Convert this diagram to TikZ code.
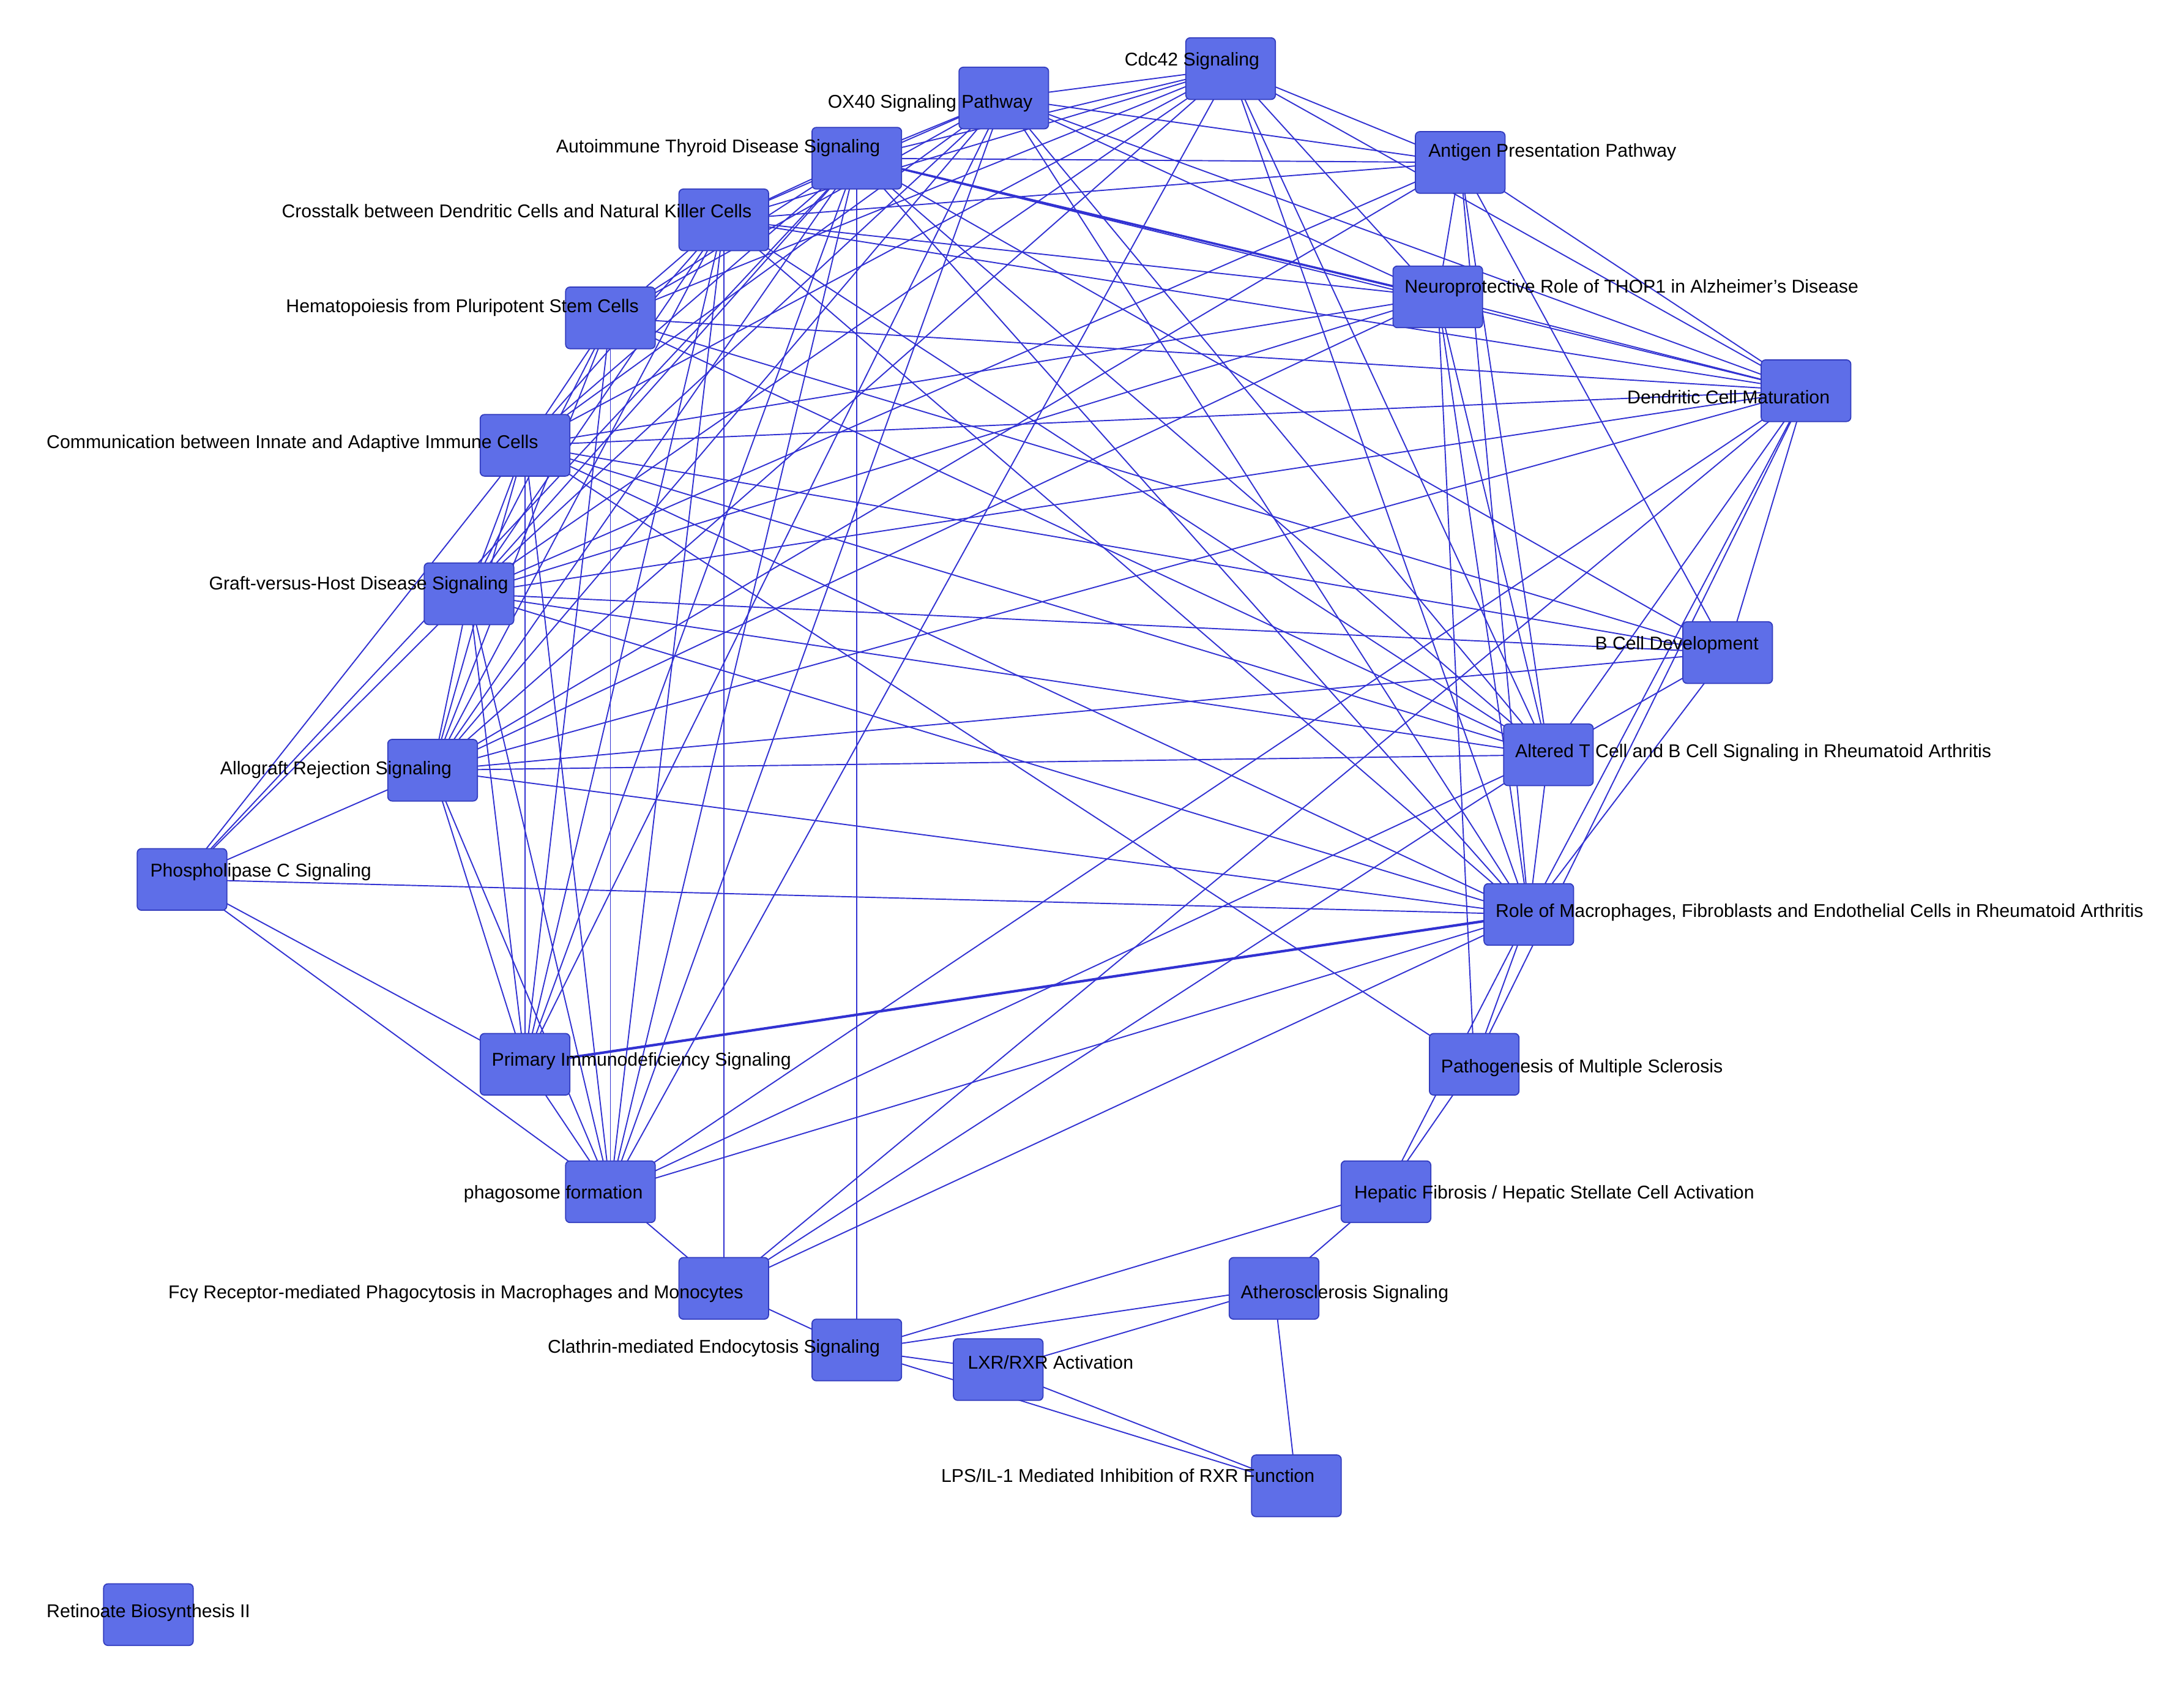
\documentclass[tikz,border=0pt]{standalone}
\usepackage{fontspec}
\setmainfont{Liberation Sans}
\definecolor{nodefill}{RGB}{94,110,232}
\definecolor{nodeedge}{RGB}{50,60,190}
\definecolor{edgecol}{RGB}{50,50,210}
\begin{document}
\begin{tikzpicture}[x=0.02288cm,y=-0.02288cm,
  box/.style={draw=nodeedge,fill=nodefill,rounded corners=2pt,minimum width=64*0.02288cm,minimum height=44*0.02288cm,line width=0.5pt},
  lab/.style={anchor=west,inner sep=0,yshift=1.5pt,font=\fontsize{8.6}{10}\selectfont},
  edge/.style={draw=edgecol,line width=0.55pt}]
\useasboundingbox (0,0) rectangle (1560,1206.4);
\foreach \n/\x/\y in {cdc/879/49,ox/717/70,ait/612/113,app/1043/116,cross/517/157,thop/1027/212,hema/436/227,dcm/1290/279,comm/375/318,gvhd/335/424,bcd/1234/466,atb/1106/539,allo/309/550,plc/130/628,rmf/1092/653,pid/375/760,pms/1053/760,phago/436/851,hep/990/851,fcy/517/920,ath/910/920,clat/612/964,lxr/713/978,lps/926/1061,ret/106/1153}
  \coordinate (c-\n) at (\x,\y);
\foreach \a/\b in {ox/cdc,ox/ait,ox/cross,ox/hema,ox/comm,ox/gvhd,ox/allo,ox/app,ox/thop,ox/dcm,ox/atb,ox/rmf,ox/phago,ox/pid,
 cdc/ait,cdc/cross,cdc/app,cdc/thop,cdc/dcm,cdc/comm,cdc/gvhd,cdc/allo,cdc/hema,cdc/rmf,cdc/atb,cdc/phago,
 ait/cross,ait/hema,ait/comm,ait/gvhd,ait/allo,ait/app,ait/thop,ait/dcm,ait/bcd,ait/atb,ait/rmf,ait/pid,ait/phago,ait/clat,
 cross/hema,cross/comm,cross/gvhd,cross/allo,cross/app,cross/thop,cross/dcm,cross/rmf,cross/atb,cross/fcy,cross/phago,cross/pid,
 hema/comm,hema/gvhd,hema/allo,hema/dcm,hema/bcd,hema/phago,hema/pid,hema/atb,
 comm/gvhd,comm/allo,comm/plc,comm/dcm,comm/thop,comm/bcd,comm/atb,comm/rmf,comm/pid,comm/phago,comm/pms,
 gvhd/allo,gvhd/plc,gvhd/bcd,gvhd/atb,gvhd/rmf,gvhd/pid,gvhd/phago,gvhd/dcm,gvhd/thop,gvhd/app,
 allo/plc,allo/pid,allo/phago,allo/atb,allo/rmf,allo/dcm,allo/thop,allo/bcd,allo/app,
 plc/pid,plc/phago,plc/rmf,plc/ait,
 app/thop,app/dcm,app/atb,app/rmf,app/bcd,
 thop/dcm,thop/atb,thop/rmf,thop/pms,
 dcm/bcd,dcm/atb,dcm/rmf,dcm/pms,dcm/phago,dcm/fcy,
 bcd/atb,bcd/rmf,atb/rmf,atb/phago,atb/fcy,
 rmf/pid,rmf/phago,rmf/pms,rmf/hep,rmf/fcy,
 pms/hep,hep/ath,hep/clat,ath/clat,ath/lxr,ath/lps,clat/lxr,clat/lps,lxr/lps,phago/fcy,phago/pid,fcy/clat}
  \draw[edge] (c-\a) -- (c-\b);
\draw[edge,line width=1.2pt] (c-rmf) -- (c-pid);
\draw[edge,line width=1pt] (c-ait) -- (c-thop);
\foreach \n in {cdc,ox,ait,app,cross,thop,hema,dcm,comm,gvhd,bcd,atb,allo,plc,rmf,pid,pms,phago,hep,fcy,ath,clat,lxr,lps,ret}
  \node[box] (\n) at (c-\n) {};
\node[lab] (l-cdc) at (803,46) {Cdc42 Signaling};
\node[lab] (l-ox) at (591,76) {OX40 Signaling Pathway};
\node[lab] (l-ait) at (397,108) {Autoimmune Thyroid Disease Signaling};
\node[lab] (l-app) at (1020,111) {Antigen Presentation Pathway};
\node[lab] (l-cross) at (201,153) {Crosstalk between Dendritic Cells and Natural Killer Cells};
\node[lab] (l-thop) at (1003,208) {Neuroprotective Role of THOP1 in Alzheimer's Disease};
\node[lab] (l-hema) at (204,222) {Hematopoiesis from Pluripotent Stem Cells};
\node[lab] (l-dcm) at (1162,286) {Dendritic Cell Maturation};
\node[lab] (l-comm) at (33,319) {Communication between Innate and Adaptive Immune Cells};
\node[lab] (l-gvhd) at (149,420) {Graft-versus-Host Disease Signaling};
\node[lab] (l-bcd) at (1139,463) {B Cell Development};
\node[lab] (l-atb) at (1082,540) {Altered T Cell and B Cell Signaling in Rheumatoid Arthritis};
\node[lab] (l-allo) at (157,552) {Allograft Rejection Signaling};
\node[lab] (l-plc) at (107,625) {Phospholipase C Signaling};
\node[lab] (l-rmf) at (1068,654) {Role of Macrophages, Fibroblasts and Endothelial Cells in Rheumatoid Arthritis};
\node[lab] (l-pid) at (351,760) {Primary Immunodeficiency Signaling};
\node[lab] (l-pms) at (1029,765) {Pathogenesis of Multiple Sclerosis};
\node[lab] (l-phago) at (331,855) {phagosome formation};
\node[lab] (l-hep) at (967,855) {Hepatic Fibrosis / Hepatic Stellate Cell Activation};
\node[lab] (l-fcy) at (120,926) {Fcγ Receptor-mediated Phagocytosis in Macrophages and Monocytes};
\node[lab] (l-ath) at (886,926) {Atherosclerosis Signaling};
\node[lab] (l-clat) at (391,965) {Clathrin-mediated Endocytosis Signaling};
\node[lab] (l-lxr) at (691,975) {LXR/RXR Activation};
\node[lab] (l-lps) at (672,1056) {LPS/IL-1 Mediated Inhibition of RXR Function};
\node[lab] (l-ret) at (33,1154) {Retinoate Biosynthesis II};
\end{tikzpicture}
\end{document}
